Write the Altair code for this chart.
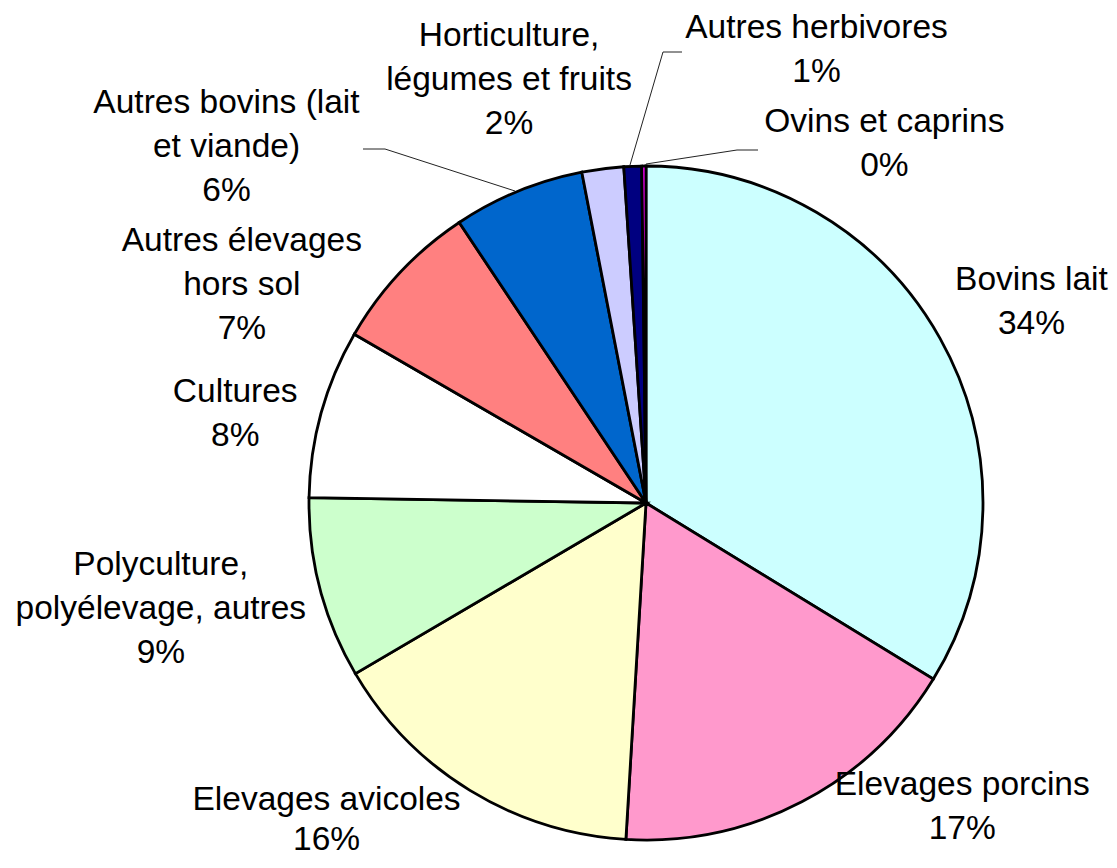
import altair as alt
import pandas as pd

# ---- data ----
categories = [
    "Bovins lait", "Elevages porcins", "Elevages avicoles",
    "Polyculture, polyélevage, autres", "Cultures",
    "Autres élevages hors sol", "Autres bovins (lait et viande)",
    "Horticulture, légumes et fruits", "Autres herbivores", "Ovins et caprins",
]
label_names = [
    "Bovins lait", "Elevages porcins", "Elevages avicoles",
    "Polyculture,\npolyélevage, autres", "Cultures",
    "Autres élevages\nhors sol", "Autres bovins (lait\net viande)",
    "Horticulture,\nlégumes et fruits", "Autres herbivores", "Ovins et caprins",
]
shares = [33.75, 17.2, 15.6, 8.7, 8.1, 7.3, 6.3, 2.0, 0.85, 0.2]
colors = ["#CCFFFF", "#FF99CC", "#FFFFCC", "#CCFFCC", "#FFFFFF",
          "#FF8080", "#0066CC", "#CCCCFF", "#000080", "#FF00FF"]

# ---- layout (pixel offsets of labels from their slice mid-angle point) ----
CX, CY, R, LABEL_R = 638, 495, 337, 420
label_offsets = [(19, -18), (122, -90), (-100, -61), (-79, -45), (-6, 1),
                 (-98, 26), (-260, -11), (-83, -50), (187, -55), (241, 39)]
line_heights = [44, 44, 40, 44, 44, 44, 44, 44, 44, 44]
leader_segments = [
    (355, 141, 377, 141), (377, 141, 507, 183),
    (674, 44, 655, 44), (655, 44, 622, 157),
    (750, 142, 729, 142), (729, 142, 638, 156),
]

total = sum(shares)
ends = pd.Series(shares).cumsum()
df = pd.DataFrame({
    "name": categories,
    "idx": list(range(len(categories))),
    "value": shares,
    "end": ends,
    "start": ends - pd.Series(shares),
    "label": [f"{n}\n{round(v)}%" for n, v in zip(label_names, shares)],
})
df["mid"] = (df["start"] + df["end"]) / 2

theta_scale = alt.Scale(domain=[0, total], range=[0, 6.283185307179586])
base = alt.Chart(df)

arcs = base.mark_arc(outerRadius=R, stroke="black", strokeWidth=2.8).encode(
    theta=alt.Theta("start:Q", scale=theta_scale),
    theta2="end:Q",
    color=alt.Color("name:N", scale=alt.Scale(domain=categories, range=colors), legend=None),
    x=alt.value(CX), y=alt.value(CY),
)

layers = [arcs]
for (x1, y1, x2, y2) in leader_segments:
    layers.append(
        base.mark_rule(color="#222222", strokeWidth=1).encode(
            x=alt.value(x1), y=alt.value(y1), x2=alt.value(x2), y2=alt.value(y2)
        ).transform_filter("datum.idx == 0")
    )

for name, (dx, dy), lh in zip(categories, label_offsets, line_heights):
    layers.append(
        base.transform_filter(alt.datum.name == name).mark_text(
            radius=LABEL_R, dx=dx, dy=dy, font="Liberation Sans", fontSize=33.5,
            lineBreak="\n", lineHeight=lh, align="center", baseline="middle",
            color="black",
        ).encode(
            theta=alt.Theta("mid:Q", scale=theta_scale),
            text="label:N",
            x=alt.value(CX), y=alt.value(CY),
        )
    )

chart = alt.layer(*layers).properties(
    width=1101, height=852, autosize="none", padding=0
).configure_view(stroke=None)

chart.save("out.html", embed_options={"renderer": "svg", "actions": False})
